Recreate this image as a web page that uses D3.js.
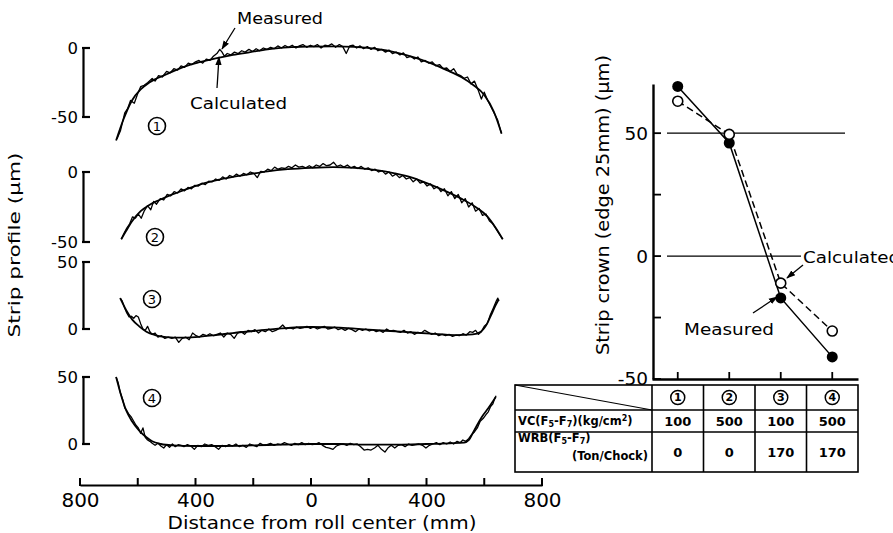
<!DOCTYPE html>
<html><head><meta charset="utf-8">
<script src="https://cdn.jsdelivr.net/npm/d3@7"></script>
<style>
body{margin:0;background:#fff;}
svg{display:block;font-family:"DejaVu Sans",sans-serif;}
</style></head><body>
<svg id="c" width="893" height="533"></svg>
<script>
// ---------- DATA ----------
const xTicks = [-800,-600,-400,-200,0,200,400,600,800];
const xTickLabelled = [-800,-400,0,400,800];
const panelIds = ["1","2","3","4"];
const panelDomains = [[-50,0],[-50,0],[0,50],[0,50]];
const panelTicks = [[-50,0],[-50,0],[0,50],[0,50]];

const calc1 = [[-675,-67],[-650,-52],[-620,-38],[-590,-30],[-560,-25],[-500,-19],[-445,-14],[-390,-10.5],[-330,-7.5],[-270,-5],[-210,-3],[-150,-1],[-80,0.5],[0,1],[80,1.2],[150,0.8],[220,-0.5],[300,-3.5],[360,-7],[414,-11],[470,-16],[520,-21],[563,-27],[600,-34],[633,-46],[660,-62]];
const meas1 = [[-672,-66],[-660,-60],[-645,-47],[-635,-44],[-625,-38],[-612,-40],[-600,-33],[-590,-28],[-578,-27],[-565,-25],[-550,-22],[-540,-24],[-528,-20],[-515,-21],[-500,-17],[-488,-18],[-475,-15],[-462,-16],[-450,-13],[-438,-14],[-425,-11],[-412,-12],[-400,-10],[-388,-9],[-375,-11],[-362,-8],[-350,-9],[-338,-6],[-326,-4],[-316,-1],[-308,-3],[-300,-6],[-290,-4],[-278,-5],[-265,-3],[-252,-4],[-240,-2],[-228,-3],[-215,-1],[-202,-2.5],[-190,-0.5],[-178,-2],[-165,0],[-152,-1],[-140,0.5],[-128,-0.5],[-115,1.5],[-102,0],[-90,1.8],[-78,0.5],[-65,2],[-52,0],[-40,1.5],[-28,2.5],[-15,0.5],[-2,2],[10,1],[22,2.5],[35,0],[48,2],[60,1.5],[72,3],[85,0.5],[98,2.5],[110,1],[122,-4],[134,1.5],[146,2],[158,0],[170,1.5],[182,-0.5],[195,1],[208,-1],[220,0.5],[232,-2],[245,-1],[258,-3],[270,-1.5],[282,-4],[295,-3],[308,-5],[320,-3.5],[332,-7],[345,-6],[358,-8],[370,-6.5],[382,-10],[395,-9],[408,-11],[420,-10],[432,-13],[445,-12],[458,-15],[470,-14.5],[482,-17],[494,-15],[506,-19],[518,-20],[530,-22],[542,-21],[554,-26],[566,-24],[578,-30],[590,-37],[600,-32],[612,-38],[622,-42],[634,-47],[646,-52],[660,-62]];

const calc2 = [[-657,-48],[-640,-42],[-619,-35],[-590,-28],[-560,-23.5],[-525,-20],[-480,-16],[-440,-13],[-386,-9],[-330,-6],[-270,-3.5],[-212,-1.5],[-150,0.5],[-80,2],[0,3],[77,3.5],[150,3],[220,1.5],[290,-1],[350,-4],[414,-9],[470,-14],[520,-19],[570,-25],[612,-32],[640,-40],[664,-48]];
const meas2 = [[-657,-48],[-648,-44],[-638,-40],[-628,-37],[-618,-32],[-608,-33],[-598,-30],[-588,-33],[-578,-28],[-566,-24],[-555,-27],[-545,-21],[-535,-23],[-522,-19],[-510,-20],[-498,-16],[-486,-17],[-474,-14],[-462,-15],[-450,-12],[-438,-13.5],[-426,-11],[-414,-12],[-402,-9.5],[-390,-10],[-378,-8],[-366,-9],[-354,-6.5],[-342,-7],[-330,-5],[-318,-6],[-306,-3.5],[-294,-5],[-282,-2.5],[-270,-3.5],[-258,-1.5],[-246,-3],[-234,-1],[-222,-2],[-210,0],[-198,-1],[-186,-4],[-174,0.5],[-162,0],[-150,2],[-138,1],[-126,3.5],[-114,2],[-102,3],[-90,2.5],[-78,4],[-66,3],[-54,5],[-42,3.5],[-30,4],[-18,3],[-6,4.5],[6,3],[18,5],[30,4],[42,6],[54,4.5],[66,5],[78,7],[90,4],[102,5],[114,3.5],[126,5],[138,3],[150,4],[162,2.5],[174,4],[186,2],[198,3],[210,1],[222,2],[234,0],[246,1],[258,-1.5],[270,0],[282,-3],[294,-1.5],[306,-4],[318,-2.5],[330,-5],[342,-4],[354,-7],[366,-5],[378,-8],[390,-7],[402,-10],[414,-8.5],[426,-12],[438,-10.5],[450,-14],[462,-12],[474,-17],[486,-14],[498,-19],[510,-16],[522,-22],[534,-19],[546,-25],[558,-22],[570,-28],[582,-26],[594,-31],[606,-30],[618,-35],[630,-37],[642,-41],[654,-45],[664,-48]];

const calc3 = [[-661,23],[-640,14],[-619,7],[-595,2],[-570,-2],[-540,-4.5],[-501,-6],[-450,-6.5],[-400,-6],[-330,-4.5],[-271,-3],[-200,-1.5],[-100,0.5],[0,1.5],[100,1],[200,-0.5],[310,-2],[414,-3.5],[500,-4.5],[560,-4],[588,-2],[610,4],[625,11],[640,18],[650,22]];
const meas3 = [[-661,23],[-654,21],[-646,16],[-638,12],[-630,9],[-622,9.5],[-614,8],[-606,10],[-598,9],[-590,4],[-582,0],[-574,-1],[-566,2],[-558,-2],[-550,-4],[-540,-3],[-530,-6],[-518,-5],[-506,-7],[-494,-6],[-482,-7],[-470,-6],[-458,-10],[-446,-7],[-434,-6],[-422,-8],[-410,-3],[-398,-5],[-386,-6],[-374,-4],[-362,-5],[-350,-3.5],[-338,-5],[-326,-4],[-314,-3],[-302,-6],[-290,-3],[-278,-4],[-266,-7],[-254,-3],[-242,-2],[-230,-4],[-218,-1],[-206,-2],[-194,-0.5],[-182,-3],[-170,-1],[-158,-2],[-146,0],[-134,-2],[-122,-1],[-110,0.5],[-98,3],[-86,0],[-74,1],[-62,0],[-50,1.5],[-38,0.5],[-26,1],[-14,2],[-2,0.5],[10,1.5],[22,0],[34,1],[46,2],[58,0],[70,0.5],[82,1.5],[94,-0.5],[106,0.5],[118,-1],[130,0.5],[142,-0.5],[154,-2],[166,0],[178,-1],[190,0],[202,-1.5],[214,-0.5],[226,-2],[238,-1],[250,-2.5],[262,0],[274,-1.5],[286,-1],[298,-2],[310,-2.5],[322,-1],[334,-3],[346,-2],[358,-4],[370,-2.5],[382,-3],[394,-1],[406,-2.5],[418,-4],[430,-3],[442,-5],[454,-4],[466,-5],[478,-4],[490,-5.5],[502,-4.5],[514,-5],[526,-3.5],[538,-4.5],[550,-2],[560,-2.5],[570,-1],[580,-4],[590,-2],[600,2],[610,4],[620,10],[630,15],[638,19],[642,21],[647,23],[651,21]];

const calc4 = [[-675,50],[-660,38],[-640,25],[-620,17],[-595,10],[-570,5],[-550,2],[-520,0],[-480,-1],[-400,-1.5],[-300,-1.5],[-200,-1],[-100,-0.5],[0,0],[100,0],[200,-0.5],[300,-0.5],[400,0],[480,0.5],[530,1],[547,3],[560,8],[575,14],[591,20],[615,27],[640,35]];
const meas4 = [[-675,50],[-668,46],[-660,38],[-652,33],[-645,27],[-638,25],[-630,22],[-622,20],[-614,17],[-606,14],[-598,12],[-590,8],[-582,12],[-574,5],[-566,3],[-558,2],[-550,0.5],[-540,-1],[-530,0.5],[-520,-1.5],[-510,-3],[-500,-0.5],[-490,-2.5],[-480,0],[-470,-2],[-460,-0.5],[-450,-1],[-440,-2],[-428,-0.5],[-416,-1.5],[-404,-4],[-392,-1],[-380,-2],[-368,0],[-356,-1],[-344,-0.5],[-332,-2],[-320,-4],[-308,-1],[-296,-2],[-284,-0.5],[-272,-1.5],[-260,0],[-248,-2],[-236,-1],[-224,-2.5],[-212,0],[-200,-1],[-188,-2],[-176,0.5],[-164,-1],[-152,-0.5],[-140,0.5],[-128,-1],[-116,0],[-104,-0.5],[-92,1],[-80,0],[-68,-1],[-56,0.5],[-44,-0.5],[-32,1],[-20,-0.5],[-8,0.5],[4,-0.5],[16,0],[28,1],[40,-1],[52,-2.5],[64,-3],[76,-4],[88,-1.5],[100,-0.5],[112,0],[124,-1],[136,0.5],[148,-0.5],[160,0],[172,-2],[184,-4.5],[196,-4],[208,-4.5],[220,-3],[232,-1],[244,-4],[256,-6],[266,-3],[278,-1],[290,-3],[302,-1],[314,-0.5],[326,-2],[338,0],[350,-1],[362,-0.5],[374,0],[386,-1],[398,-3],[410,-1],[422,0],[434,1],[446,-0.5],[458,1],[470,0],[482,1.5],[494,0],[506,2],[516,1],[526,3],[536,2],[546,4],[556,7],[566,9],[576,12],[586,17],[596,19],[606,22],[614,24],[622,28],[630,30],[636,34],[641,36]];

const calcProfiles = [calc1, calc2, calc3, calc4];
const measProfiles = [meas1, meas2, meas3, meas4];

// right chart
const cases = [1,2,3,4];
const crownMeasured = [69, 46, -17, -41];
const crownCalculated = [63, 49.5, -11, -30.5];
const crownTicks = [-50,-25,0,25,50];
const crownLabelled = [-50,0,50];
const crownRefLines = [50, 0];
const vcValues = ["100","500","100","500"];
const wrbValues = ["0","0","170","170"];

// ---------- DRAW ----------
const svg = d3.select("#c");
const defs = svg.append("defs");
defs.append("marker").attr("id","ah").attr("viewBox","0 0 10 10")
  .attr("refX",9).attr("refY",5).attr("markerWidth",9).attr("markerHeight",9)
  .attr("orient","auto").attr("markerUnits","userSpaceOnUse")
  .append("path").attr("d","M0,1.5 L10,5 L0,8.5 Z").attr("fill","#000");

const tickLayer = svg.append("g").attr("class","ticklayer");
function vTicks(x0, scale, values, len, sw){ // vertical axis at x0, ticks pointing right
  values.forEach(v=>{
    tickLayer.append("path").attr("d",`M${x0},${scale(v)}H${x0+len}`)
      .attr("stroke","#000").attr("stroke-width",sw).attr("fill","none");
  });
}
function hTicks(y0, scale, values, len, sw){ // horizontal axis at y0, ticks pointing up
  values.forEach(v=>{
    tickLayer.append("path").attr("d",`M${scale(v)},${y0}V${y0-len}`)
      .attr("stroke","#000").attr("stroke-width",sw).attr("fill","none");
  });
}

// left chart
const x = d3.scaleLinear().domain([-800,800]).range([80,542]);
const panelTop = [48,172,262,377];
const panelH = [69,70,67,67];
const labelPos = [[157,126],[155,237],[152,299],[152,398]];

panelIds.forEach((id,i)=>{
  const y = d3.scaleLinear().domain(panelDomains[i]).range([panelTop[i]+panelH[i], panelTop[i]]);
  const ax = svg.append("g").attr("transform","translate(83,0)")
    .call(d3.axisLeft(y).tickValues(panelTicks[i]).tickSize(0).tickPadding(5).tickFormat(d=>d));
  ax.select(".domain").attr("stroke-width",2.2).attr("stroke","#000");
  ax.selectAll("text").attr("font-size",16.5).attr("font-family","DejaVu Sans").attr("fill","#000");
  vTicks(82, y, panelTicks[i], 8, 2.2);
  const line = d3.line().x(d=>x(d[0])).y(d=>y(d[1]));
  svg.append("path").datum(calcProfiles[i]).attr("d",line.curve(d3.curveMonotoneX))
    .attr("fill","none").attr("stroke","#000").attr("stroke-width",1.8);
  svg.append("path").datum(measProfiles[i]).attr("d",d3.line().x(d=>x(d[0])).y(d=>y(d[1])))
    .attr("fill","none").attr("stroke","#000").attr("stroke-width",1.3).attr("stroke-linejoin","round");
  const g = svg.append("g").attr("transform",`translate(${labelPos[i][0]},${labelPos[i][1]})`);
  g.append("circle").attr("r",8.5).attr("fill","none").attr("stroke","#000").attr("stroke-width",1.6);
  g.append("text").attr("text-anchor","middle").attr("dy","0.36em").attr("font-size",13).text(id);
});

const xa = svg.append("g").attr("transform","translate(0,485)")
  .call(d3.axisBottom(x).tickValues(xTicks).tickSize(0).tickPadding(8)
    .tickFormat(d=> xTickLabelled.includes(d) ? Math.abs(d) : ""));
xa.select(".domain").attr("stroke-width",2.2).attr("stroke","#000");
xa.selectAll("text").attr("font-size",20).attr("font-family","DejaVu Sans").attr("fill","#000");
hTicks(486, x, xTicks, 8, 2);

svg.append("text").attr("x",322).attr("y",529).attr("text-anchor","middle")
  .attr("font-size",17).attr("textLength",309).attr("lengthAdjust","spacingAndGlyphs")
  .text("Distance from roll center (mm)");
svg.append("text").attr("transform","translate(20,245) rotate(-90)").attr("text-anchor","middle")
  .attr("font-size",16.5).attr("textLength",185).attr("lengthAdjust","spacingAndGlyphs")
  .text("Strip profile (\u00b5m)");

// annotations left
svg.append("text").attr("x",237).attr("y",24).attr("font-size",16.5)
  .attr("textLength",86).attr("lengthAdjust","spacingAndGlyphs").text("Measured");
svg.append("line").attr("x1",235).attr("y1",28).attr("x2",222).attr("y2",49)
  .attr("stroke","#000").attr("stroke-width",1.3).attr("marker-end","url(#ah)");
svg.append("text").attr("x",190).attr("y",109).attr("font-size",16.5)
  .attr("textLength",97).attr("lengthAdjust","spacingAndGlyphs").text("Calculated");
svg.append("line").attr("x1",217).attr("y1",88).attr("x2",219).attr("y2",57)
  .attr("stroke","#000").attr("stroke-width",1.3).attr("marker-end","url(#ah)");

// right chart
const xc = d3.scaleBand().domain(cases).range([652,858]);
const cx = d => xc(d) + xc.bandwidth()/2;
const yc = d3.scaleLinear().domain([-50,70]).range([379,84]);

svg.selectAll(".ref").data(crownRefLines).join("line")
  .attr("x1",667).attr("x2",(d)=> d===0 ? 801 : 845)
  .attr("y1",d=>yc(d)).attr("y2",d=>yc(d)).attr("stroke","#000").attr("stroke-width",1.3);

const ya = svg.append("g").attr("transform","translate(653,0)")
  .call(d3.axisLeft(yc).tickValues(crownTicks).tickSize(0).tickPadding(5)
    .tickFormat(d=> crownLabelled.includes(d) ? d : ""));
ya.select(".domain").attr("stroke-width",2.4).attr("stroke","#000");
ya.selectAll("text").attr("font-size",18.5).attr("font-family","DejaVu Sans").attr("fill","#000");
vTicks(653, yc, crownTicks, 8, 1.8);

const xca = svg.append("g").attr("transform","translate(0,379)")
  .call(d3.axisBottom(xc).tickSize(0).tickFormat(""));
xca.select(".domain").attr("stroke-width",2.4).attr("stroke","#000");
hTicks(379, cx, cases, 7, 1.8);

const crownLine = d3.line().x((d,i)=>cx(cases[i])).y(d=>yc(d));
svg.append("path").datum(crownCalculated).attr("d",crownLine).attr("fill","none")
  .attr("stroke","#000").attr("stroke-width",1.5).attr("stroke-dasharray","7,4");
svg.append("path").datum(crownMeasured).attr("d",crownLine).attr("fill","none")
  .attr("stroke","#000").attr("stroke-width",1.5);
svg.selectAll(".cm").data(crownMeasured).join("circle")
  .attr("cx",(d,i)=>cx(cases[i])).attr("cy",d=>yc(d)).attr("r",5.5).attr("fill","#000");
svg.selectAll(".cc").data(crownCalculated).join("circle")
  .attr("cx",(d,i)=>cx(cases[i])).attr("cy",d=>yc(d)).attr("r",5).attr("fill","#fff")
  .attr("stroke","#000").attr("stroke-width",1.6);

svg.append("text").attr("transform","translate(609,205) rotate(-90)").attr("text-anchor","middle")
  .attr("font-size",17.5).attr("textLength",300).attr("lengthAdjust","spacingAndGlyphs")
  .text("Strip crown (edge 25mm) (\u00b5m)");

svg.append("text").attr("x",803).attr("y",263).attr("font-size",16.5)
  .attr("textLength",97).attr("lengthAdjust","spacingAndGlyphs").text("Calculated");
svg.append("line").attr("x1",803).attr("y1",265).attr("x2",787).attr("y2",278)
  .attr("stroke","#000").attr("stroke-width",1.3).attr("marker-end","url(#ah)");
svg.append("text").attr("x",684).attr("y",335).attr("font-size",16.5)
  .attr("textLength",90).attr("lengthAdjust","spacingAndGlyphs").text("Measured");
svg.append("line").attr("x1",753).attr("y1",313).attr("x2",777).attr("y2",297)
  .attr("stroke","#000").attr("stroke-width",1.3).attr("marker-end","url(#ah)");

// table
const tL = 515, tT = 385, r1 = 410, r2 = 432, tB = 472, tR = xc.range()[1];
const tg = svg.append("g").attr("stroke","#000").attr("stroke-width",1.6);
tg.append("rect").attr("x",tL).attr("y",tT).attr("width",tR-tL).attr("height",tB-tT).attr("fill","none");
tg.append("line").attr("x1",tL).attr("x2",tR).attr("y1",r1).attr("y2",r1);
tg.append("line").attr("x1",tL).attr("x2",tR).attr("y1",r2).attr("y2",r2);
tg.selectAll(".vl").data(cases).join("line")
  .attr("x1",d=>xc(d)).attr("x2",d=>xc(d)).attr("y1",tT).attr("y2",tB);
tg.append("line").attr("x1",tL).attr("y1",tT).attr("x2",xc(1)).attr("y2",r1).attr("stroke-width",1.2);

const hdr = svg.selectAll(".hd").data(cases).join("g")
  .attr("transform",d=>`translate(${cx(d)},${(tT+r1)/2})`);
hdr.append("circle").attr("r",7).attr("fill","none").attr("stroke","#000").attr("stroke-width",1.5);
hdr.append("text").attr("text-anchor","middle").attr("dy","0.36em").attr("font-size",11)
  .attr("font-weight","bold").text(d=>d);

svg.selectAll(".vc").data(vcValues).join("text")
  .attr("x",(d,i)=>cx(cases[i])).attr("y",(r1+r2)/2).attr("dy","0.36em")
  .attr("text-anchor","middle").attr("font-size",13).attr("font-weight","bold").text(d=>d);
svg.selectAll(".wrb").data(wrbValues).join("text")
  .attr("x",(d,i)=>cx(cases[i])).attr("y",(r2+tB)/2).attr("dy","0.36em")
  .attr("text-anchor","middle").attr("font-size",13).attr("font-weight","bold").text(d=>d);

const vcT = svg.append("text").attr("x",518).attr("y",425).attr("font-size",11.5).attr("font-weight","bold");
vcT.append("tspan").text("VC(F");
vcT.append("tspan").attr("font-size",8).attr("dy",2).text("5");
vcT.append("tspan").attr("dy",-2).text("-F");
vcT.append("tspan").attr("font-size",8).attr("dy",2).text("7");
vcT.append("tspan").attr("dy",-2).text(")(kg/cm");
vcT.append("tspan").attr("font-size",8).attr("dy",-4).text("2");
vcT.append("tspan").attr("dy",4).text(")");

const wT = svg.append("text").attr("x",518).attr("y",442).attr("font-size",11.5).attr("font-weight","bold");
wT.append("tspan").text("WRB(F");
wT.append("tspan").attr("font-size",8).attr("dy",2).text("5");
wT.append("tspan").attr("dy",-2).text("-F");
wT.append("tspan").attr("font-size",8).attr("dy",2).text("7");
wT.append("tspan").attr("dy",-2).text(")");
svg.append("text").attr("x",648).attr("y",460).attr("text-anchor","end").attr("font-size",11.5)
  .attr("font-weight","bold").text("(Ton/Chock)");
</script>
</body></html>
